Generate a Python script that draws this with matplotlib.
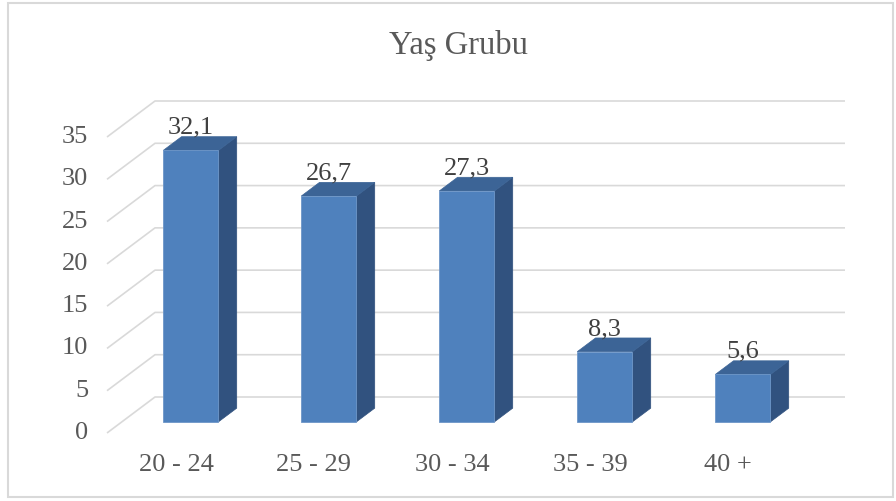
"""
3D-style column chart: Yaş Grubu (age group distribution).
"""

import matplotlib.pyplot as plt
from matplotlib.patches import Polygon, Rectangle

# data
categories = ["20 - 24", "25 - 29", "30 - 34", "35 - 39", "40 +"]
values = [32.1, 26.7, 27.3, 8.3, 5.6]
value_labels = ["32,1", "26,7", "27,3", "8,3", "5,6"]
y_ticks = [0, 5, 10, 15, 20, 25, 30, 35]
title = "Yaş Grubu"

# layout (pixels of the 896x501 picture)
W, H = 896, 501
PX_CAT = 138.0          # pixels per category
PX_UNIT = 8.457         # pixels per value unit
X0_PX, Y0_PX = 176.0, 433.0   # first category centre / value 0 on the front plane
DEPTH_PX = (48.0, 36.0)       # wall depth offset

DX = DEPTH_PX[0] / PX_CAT
DY = DEPTH_PX[1] / PX_UNIT
BAR_W = 0.40
D_FRONT, D_BACK = 0.31, 0.69

FRONT = "#4F81BD"
TOP = "#3C6496"
SIDE = "#31527F"
GRID = "#D9D9D9"
TXT = "#595959"
LBL = "#404040"

plt.rcParams["font.family"] = ["Liberation Serif", "DejaVu Serif"]

fig = plt.figure(figsize=(W / 100, H / 100), dpi=100)
ax = fig.add_axes([0, 0, 1, 1])
ax.set_xlim((0 - X0_PX) / PX_CAT, (W - X0_PX) / PX_CAT)
ax.set_ylim((Y0_PX - H) / PX_UNIT, Y0_PX / PX_UNIT)
ax.axis("off")

n = len(categories)
left, right = -0.5, n - 0.5

# walls: left side diagonals and back horizontal gridlines
for t in y_ticks:
    ax.plot([left, left + DX, right + DX], [t, t + DY, t + DY],
            color=GRID, lw=1.2, zorder=1, solid_capstyle="butt")
    ax.text(left - 0.135, t, str(t), ha="right", va="center",
            fontsize=19, color=TXT)

# bars
dd = D_BACK - D_FRONT
for i, v in enumerate(values):
    x0 = i - BAR_W / 2 + D_FRONT * DX
    y0 = D_FRONT * DY
    x1 = x0 + BAR_W
    side = Polygon([(x1, y0), (x1, y0 + v), (x1 + dd * DX, y0 + v + dd * DY),
                    (x1 + dd * DX, y0 + dd * DY)], closed=True,
                   facecolor=SIDE, edgecolor=SIDE, lw=0.5, zorder=3)
    top = Polygon([(x0, y0 + v), (x1, y0 + v), (x1 + dd * DX, y0 + v + dd * DY),
                   (x0 + dd * DX, y0 + v + dd * DY)], closed=True,
                  facecolor=TOP, edgecolor=TOP, lw=0.5, zorder=3)
    front = Rectangle((x0, y0), BAR_W, v, facecolor=FRONT,
                      edgecolor="#6D96C8", lw=0.6, zorder=4)
    ax.add_patch(side)
    ax.add_patch(top)
    ax.add_patch(front)
    ax.text(i + D_FRONT * DX, v + D_BACK * DY + 3 / PX_UNIT, value_labels[i],
            ha="center", va="baseline", fontsize=19, color=LBL, zorder=5)
    ax.text(i, -32 / PX_UNIT, categories[i], ha="center", va="center",
            fontsize=19, color=TXT)

fig.text(458 / W, 1 - 54 / H, title, ha="center", va="baseline",
         fontsize=23.5, color=TXT)

# chart border
fig.patches.append(Rectangle((8 / W, 4 / H), 885 / W, 494 / H,
                             transform=fig.transFigure, fill=False,
                             edgecolor=GRID, lw=1.5))

fig.savefig("out.png", dpi=100)
